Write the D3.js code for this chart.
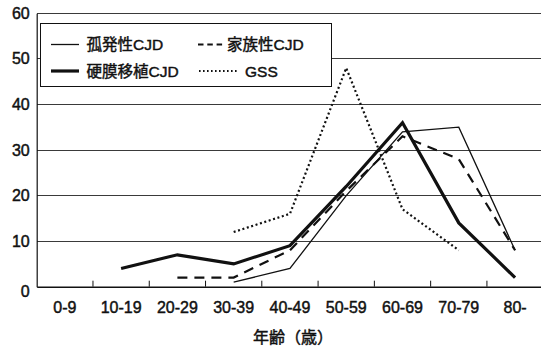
<!DOCTYPE html>
<html>
<head>
<meta charset="utf-8">
<script src="https://cdn.jsdelivr.net/npm/d3@7"></script>
<style>
html,body{margin:0;padding:0;background:#fff;}
svg{display:block;font-family:"Liberation Sans",Arial,"Noto Sans CJK JP",sans-serif;}
svg text{stroke:#111;stroke-width:0.45px;}
</style>
</head>
<body>
<svg id="chart" width="541" height="347"></svg>
<script>
const categories = ["0-9","10-19","20-29","30-39","40-49","50-59","60-69","70-79","80-"];
const sporadic = [null,null,null,1,4,20,34,35,8];      // 孤発性CJD
const familial = [null,null,2,2,8,21,33,28,8];         // 家族性CJD
const dural    = [null,4,7,5,9,22,36,14,2];            // 硬膜移植CJD
const gss      = [null,null,null,12,16,48,17,8,null];  // GSS
const yTicks = [0,10,20,30,40,50,60];
const seriesNames = ["孤発性CJD","家族性CJD","硬膜移植CJD","GSS"];
const xTitle = "年齢（歳）";

const svg = d3.select("#chart");
const mLeft = 36.7, mRight = 543.2, mTop = 13.3, mBottom = 286.7;

const x = d3.scaleBand().domain(categories).range([mLeft, mRight]).padding(0);
const y = d3.scaleLinear().domain([0, 60]).range([mBottom, mTop]);
const cx = c => x(c) + x.bandwidth() / 2;

// gridlines
svg.append("g").selectAll("line").data(yTicks.filter(d => d > 0)).join("line")
  .attr("x1", mLeft).attr("x2", 541)
  .attr("y1", d => y(d)).attr("y2", d => y(d))
  .attr("stroke", "#3a3a3a").attr("stroke-width", 1).attr("shape-rendering","crispEdges");

// y axis
const yAxis = d3.axisLeft(y).tickValues(yTicks).tickSize(0).tickPadding(7);
const gy = svg.append("g").attr("transform", `translate(${mLeft},0)`).call(yAxis);
gy.select(".domain").attr("stroke", "#111").attr("stroke-width", 1.2);
gy.selectAll("text").attr("font-size", 16).attr("fill", "#111")
  .attr("font-family", "'Liberation Sans',Arial,sans-serif");
gy.selectAll(".tick").filter(d => d === 0).select("text").attr("dy", "0.62em");

// x axis
const xAxis = d3.axisBottom(x).tickSize(0).tickPadding(15);
const gx = svg.append("g").attr("transform", `translate(0,${mBottom})`).call(xAxis);
gx.select(".domain").attr("stroke", "#111").attr("stroke-width", 1.6);
gx.selectAll("text").attr("font-size", 16).attr("fill", "#111")
  .attr("font-family", "'Liberation Sans',Arial,sans-serif");
// inward tick marks at band boundaries
svg.append("g").selectAll("line").data(categories.slice(1)).join("line")
  .attr("x1", d => x(d)).attr("x2", d => x(d))
  .attr("y1", mBottom).attr("y2", mBottom - 6)
  .attr("stroke", "#111").attr("stroke-width", 1);

// x title
svg.append("text").attr("x", 293).attr("y", 343)
  .attr("text-anchor", "middle").attr("font-size", 16).attr("fill", "#111")
  .attr("font-family", "'Noto Sans CJK JP',sans-serif")
  .text(xTitle);

// series
const styles = [
  {data: sporadic, width: 1.3, dash: null},
  {data: familial, width: 2.2, dash: "10,7"},
  {data: dural,    width: 3.2, dash: null},
  {data: gss,      width: 2.2, dash: "2,2.6"}
];
const line = d3.line()
  .defined(d => d.v !== null)
  .x(d => cx(d.c)).y(d => y(d.v));

styles.forEach(s => {
  svg.append("path")
    .datum(categories.map((c, i) => ({c, v: s.data[i]})))
    .attr("d", line)
    .attr("fill", "none")
    .attr("stroke", "#111")
    .attr("stroke-width", s.width)
    .attr("stroke-dasharray", s.dash)
    .attr("stroke-linejoin", "miter");
});

// legend
const lg = svg.append("g");
lg.append("rect").attr("x", 40.5).attr("y", 23.5).attr("width", 291).attr("height", 63)
  .attr("fill", "#fff").attr("stroke", "#111").attr("stroke-width", 1);
const legendItems = [
  {name: seriesNames[0], x1: 51, x2: 79, tx: 86.5, y: 44.5, width: 1.3, dash: null},
  {name: seriesNames[1], x1: 198, x2: 223, tx: 227, y: 44.5, width: 2.2, dash: "5.5,3.8"},
  {name: seriesNames[2], x1: 51, x2: 79, tx: 86.5, y: 71, width: 3.2, dash: null},
  {name: seriesNames[3], x1: 199, x2: 238, tx: 245, y: 71, width: 2, dash: "1.6,2.4"}
];
legendItems.forEach(it => {
  lg.append("line").attr("x1", it.x1).attr("x2", it.x2).attr("y1", it.y).attr("y2", it.y)
    .attr("stroke", "#111").attr("stroke-width", it.width).attr("stroke-dasharray", it.dash);
  lg.append("text").attr("x", it.tx).attr("y", it.y).attr("dy", "0.36em")
    .attr("font-size", 15.5).attr("fill", "#111")
    .text(it.name);
});
</script>
</body>
</html>
